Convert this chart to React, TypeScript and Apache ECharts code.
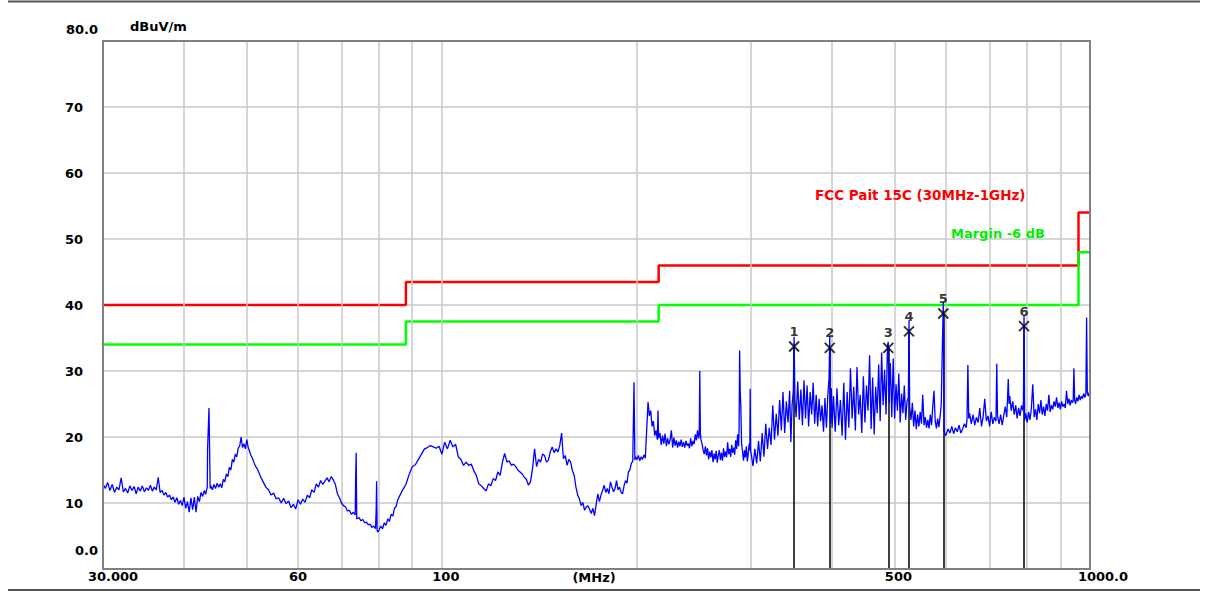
import React, { useEffect, useRef } from "react";
import * as echarts from "echarts";

// ---------- data ----------
const gridFreqs = [40, 50, 60, 70, 80, 90, 100, 200, 300, 400, 500, 600, 700, 800, 900];
const xLabelFreqs = [30, 60, 100, 500, 1000];
const xLabelTexts = ["30.000", "60", "100", "500", "1000.0"];
const xLabelShift = [20, 0, 8, 7, 26];

const limitFreq = [30, 88, 88, 216, 216, 960, 960, 1000];
const limitLevel = [40, 40, 43.5, 43.5, 46, 46, 54, 54];
const marginLevel = [34, 34, 37.5, 37.5, 40, 40, 48, 48];

const markerNames = ["1", "2", "3", "4", "5", "6"];
const markerFreq = [349.5, 396.7, 488.4, 525.7, 593.8, 791];
const markerLevel = [33.7, 33.5, 33.5, 36.0, 38.7, 36.8];

// 30 - 100 MHz
const traceLow: [number, number][] = [
  [30, 12.9], [30.25, 12.2], [30.5, 13.1], [30.75, 11.9], [31, 12.8], [31.25, 11.6], [31.5, 12.4], [31.75, 12.0],
  [32, 13.8], [32.25, 11.7], [32.5, 12.2], [32.75, 11.5], [33, 12.6], [33.25, 11.9], [33.5, 12.5], [33.75, 11.4],
  [34, 12.4], [34.25, 11.8], [34.5, 12.6], [34.75, 11.7], [35, 12.3], [35.25, 11.9], [35.5, 12.7], [35.75, 11.8],
  [36, 12.4], [36.25, 12.0], [36.5, 13.9], [36.75, 11.6], [37, 11.9], [37.25, 11.2], [37.5, 11.6], [37.75, 10.9],
  [38, 11.2], [38.25, 10.5], [38.5, 10.9], [38.75, 10.1], [39, 10.8], [39.25, 9.8], [39.5, 10.4], [39.75, 9.6],
  [40, 10.9], [40.25, 9.2], [40.5, 10.2], [40.75, 8.6], [41, 10.8], [41.25, 9.0], [41.5, 10.9], [41.75, 8.6],
  [42, 11.0], [42.25, 10.2], [42.5, 11.6], [42.75, 11.0], [43, 11.9], [43.2, 11.3], [43.45, 12.4], [43.5, 18.2],
  [43.72, 24.4], [43.9, 12.2], [44, 12.6], [44.25, 12.0], [44.5, 12.8], [44.75, 12.2], [45, 13.0], [45.25, 12.4],
  [45.5, 12.9], [45.75, 12.3], [46, 13.6], [46.25, 13.2], [46.5, 14.4], [46.75, 14.0], [47, 15.4], [47.25, 15.0],
  [47.5, 16.6], [47.75, 16.2], [48, 17.4], [48.25, 17.0], [48.5, 18.3], [48.75, 18.6], [49, 20.0], [49.25, 18.4],
  [49.5, 19.0], [49.75, 18.2], [50, 19.6], [50.25, 18.4], [50.5, 17.8], [50.75, 17.2], [51, 16.8], [51.5, 15.7],
  [52, 15.0], [52.5, 14.0], [53, 13.2], [53.5, 12.4], [54, 12.0], [54.5, 11.2], [55, 11.5], [55.5, 10.6],
  [56, 10.8], [56.5, 10.0], [57, 10.7], [57.5, 9.9], [58, 10.3], [58.5, 9.3], [59, 9.8], [59.5, 9.1],
  [60, 10.5], [60.5, 9.8], [61, 10.6], [61.5, 10.1], [62, 11.2], [62.5, 10.8], [63, 12.0], [63.5, 11.6],
  [64, 12.9], [64.5, 12.4], [65, 13.4], [65.5, 12.8], [66, 13.3], [66.5, 13.8], [67, 13.2], [67.5, 14.0],
  [68, 13.5], [68.5, 12.8], [69, 11.4], [69.5, 10.8], [70, 10.0], [70.5, 9.6], [71, 9.4], [71.5, 8.8],
  [72, 8.9], [72.5, 8.3], [73, 8.6], [73.5, 8.2], [73.6, 13.3], [73.75, 17.6], [73.9, 7.6], [74, 7.6],
  [74.5, 7.8], [75, 7.3], [75.5, 7.5], [76, 7.0], [76.5, 7.1], [77, 6.7], [77.5, 6.8], [78, 6.3],
  [78.5, 6.5], [79, 6.1], [79.2, 9.4], [79.3, 13.3], [79.45, 5.8], [79.7, 5.6], [80, 5.9], [80.5, 6.5],
  [81, 6.1], [81.5, 7.0], [82, 6.6], [82.5, 7.6], [83, 7.2], [83.5, 8.3], [84, 8.0], [84.5, 9.2],
  [85, 9.5], [85.5, 10.5], [86, 11.0], [87, 12.0], [88, 12.8], [89, 14.3], [90, 15.5], [91, 15.8],
  [92, 16.6], [93, 17.4], [94, 18.2], [95, 18.4], [96, 18.7], [97, 18.5], [98, 18.3], [99, 18.6],
];

// 100 - 300 MHz
const traceMid: [number, number][] = [
  [100, 17.4], [101, 19.2], [102, 18.2], [103, 19.5], [104, 18.5], [105, 18.9], [106, 17.0], [107, 16.6],
  [108, 15.7], [109, 16.2], [110, 15.7], [111, 15.9], [112, 14.9], [113, 14.2], [114, 12.9], [115, 12.6],
  [116, 12.2], [117, 11.8], [118, 12.9], [119, 12.6], [120, 13.7], [121, 13.4], [122, 14.7], [123, 14.2],
  [124, 16.2], [125, 17.5], [126, 16.2], [127, 16.4], [128, 15.7], [129, 15.9], [130, 15.5], [131, 15.0],
  [132, 14.7], [133, 14.4], [134, 13.9], [135, 13.6], [136, 12.7], [137, 13.2], [138, 15.2], [139, 18.2],
  [140, 15.5], [141, 16.6], [142, 16.2], [143, 17.4], [144, 17.2], [145, 16.2], [146, 16.5], [147, 17.8],
  [148, 18.5], [149, 17.6], [150, 18.2], [151, 17.7], [152, 18.7], [153, 20.6], [154, 16.7], [155, 17.2],
  [156, 15.7], [157, 16.6], [158, 16.2], [159, 14.9], [160, 14.2], [161, 12.4], [162, 11.2], [163, 10.6],
  [164, 9.6], [165, 10.1], [166, 8.9], [167, 9.4], [168, 9.6], [169, 9.0], [170, 8.4], [171, 9.2],
  [172, 8.1], [173, 9.8], [174, 11.4], [175, 10.2], [176, 11.2], [177, 11.9], [178, 12.7], [179, 11.6],
  [180, 12.2], [181, 11.4], [182, 13.2], [183, 12.4], [184, 11.7], [185, 12.2], [186, 13.4], [187, 12.0],
  [188, 12.4], [189, 11.6], [190, 11.4], [191, 12.6], [192, 13.4], [193, 13.0], [194, 14.7], [195, 15.0],
  [196, 16.0], [197, 16.3], [197.5, 22.8], [197.9, 28.3], [198.5, 16.5], [199, 17.0], [200, 16.6], [201, 17.2],
  [202, 16.4], [203, 17.0], [204, 16.6], [205, 17.3], [206, 16.8], [207, 21.0], [208, 25.3], [209, 23.2],
  [210, 24.0], [211, 21.6], [212, 22.4], [213, 20.2], [214, 21.0], [215, 19.6], [215.5, 24.0], [216, 19.8],
  [217, 20.6], [218, 18.8], [219, 20.2], [220, 19.0], [221, 20.5], [222, 18.6], [223, 19.8], [224, 18.9],
  [225, 19.6], [226, 21.0], [227, 18.4], [228, 19.9], [229, 18.7], [230, 19.5], [231, 18.4], [232, 19.3],
  [233, 18.6], [234, 19.6], [235, 18.5], [236, 19.2], [237, 18.4], [238, 19.4], [239, 18.7], [240, 19.0],
  [241, 18.3], [242, 19.8], [243, 18.6], [244, 19.4], [245, 18.9], [246, 20.4], [247, 19.5], [248, 21.0],
  [249, 19.8], [249.5, 20.4], [250, 30.0], [250.5, 20.6], [251, 19.6], [252, 19.0], [253, 18.0], [254, 17.4],
  [255, 18.6], [256, 17.2], [257, 18.3], [258, 16.6], [259, 17.8], [260, 16.9], [261, 18.0], [262, 16.2],
  [263, 17.5], [264, 16.6], [265, 17.9], [266, 16.1], [267, 17.2], [268, 18.0], [269, 16.5], [270, 17.6],
  [271, 16.4], [272, 18.3], [273, 17.0], [274, 17.8], [275, 16.9], [276, 19.2], [277, 17.4], [278, 18.2],
  [279, 17.0], [280, 18.8], [281, 17.6], [282, 18.4], [283, 17.3], [284, 19.5], [285, 18.2], [286, 20.4],
  [287, 18.6], [287.5, 21.5], [288, 33.1], [288.6, 27.0], [289.2, 24.8], [290, 19.0], [291, 17.8], [292, 16.4],
  [293, 18.0], [294, 16.9], [295, 18.6], [296, 16.3], [297, 17.5], [298, 19.0], [298.6, 18.0], [299, 27.3],
  [299.5, 17.8],
];

// 300 - 1000 MHz
const traceHigh: [number, number][] = [
  [300, 17.5], [302, 15.6], [304, 18.2], [306, 16.0], [308, 19.4], [310, 16.3], [312, 20.6], [314, 17.0],
  [316, 22.0], [318, 18.2], [320, 21.4], [322, 18.8], [324, 24.8], [326, 19.6], [328, 23.5], [330, 20.2],
  [332, 25.6], [334, 21.0], [336, 26.8], [338, 20.6], [340, 25.4], [342, 22.2], [344, 27.0], [345.5, 19.2],
  [347, 24.8], [348.5, 27.0], [349.5, 35.2], [350.5, 25.6], [352, 23.0], [354, 28.4], [356, 22.6], [358, 27.2],
  [360, 21.8], [362, 28.6], [364, 22.8], [366, 27.8], [368, 21.6], [370, 26.8], [372, 23.4], [374, 28.2],
  [376, 22.0], [378, 26.4], [380, 21.6], [382, 25.8], [384, 22.4], [386, 24.8], [388, 20.8], [390, 25.9],
  [392, 21.4], [394, 26.4], [395.7, 28.8], [396.7, 35.2], [397.7, 22.0], [399, 27.4], [400, 21.4], [402, 26.2],
  [404.5, 20.8], [407, 27.4], [409.5, 21.8], [412, 25.6], [414.5, 20.2], [417, 28.2], [419.5, 19.6], [422, 26.8],
  [424.5, 21.4], [427, 30.4], [429.5, 22.8], [432, 27.6], [434.5, 21.0], [437, 30.6], [439.5, 23.4], [442, 26.4],
  [444.5, 20.6], [447, 29.2], [449.5, 22.2], [452, 27.8], [454.5, 24.0], [457, 32.4], [459.5, 21.2], [462, 29.0],
  [464.5, 20.4], [467, 27.6], [469.5, 23.6], [472, 31.0], [474.5, 22.4], [477, 32.8], [479.5, 24.8], [482, 30.2],
  [484.5, 23.4], [487, 33.9], [488.4, 34.4], [489.5, 25.2], [492, 31.2], [494.5, 23.0], [497, 31.9], [499.5, 22.8],
  [502, 28.0], [504.5, 24.0], [507, 29.6], [509.5, 22.2], [512, 26.6], [514.5, 23.6], [517, 27.8], [519.5, 22.6],
  [522, 25.4], [524.5, 26.0], [525.7, 37.7], [527, 24.5], [529.5, 22.6], [532, 25.2], [534.5, 21.6], [537, 24.0],
  [539.5, 21.2], [542, 23.4], [544.5, 21.6], [547, 23.8], [549.5, 22.0], [552, 26.4], [554.5, 21.8], [557, 23.0],
  [559.5, 21.4], [562, 22.6], [564.5, 21.3], [567, 23.4], [569.5, 21.8], [572, 24.6], [574.5, 27.0], [577, 22.4],
  [579.5, 21.3], [582, 22.8], [584.5, 21.5], [587, 23.0], [589.5, 25.0], [591, 30.6], [593.8, 40.5], [595.5, 21.0],
  [598, 20.2], [600, 20.4], [604, 21.2], [608, 20.6], [612, 21.6], [616, 20.5], [620, 21.4], [624, 20.8],
  [628, 21.8], [632, 20.6], [636, 21.2], [640, 22.0], [644, 21.4], [646, 22.6], [648, 30.9], [650, 22.8],
  [652, 23.6], [656, 22.0], [660, 23.4], [664, 21.8], [668, 23.0], [672, 22.2], [676, 24.4], [680, 21.6],
  [684, 23.0], [688, 25.8], [692, 22.4], [696, 23.2], [700, 21.6], [704, 23.8], [708, 22.0], [712, 23.0],
  [716, 22.4], [718, 31.1], [720, 23.2], [724, 22.0], [728, 23.4], [732, 21.8], [736, 23.2], [740, 24.6],
  [744, 23.0], [746, 25.8], [748, 28.8], [750, 25.0], [752, 26.2], [756, 24.0], [760, 25.4], [764, 23.4],
  [768, 24.8], [772, 22.8], [776, 24.4], [780, 23.2], [784, 24.8], [788, 24.0], [789.5, 25.5], [791, 38.4],
  [793, 22.5], [796, 23.6], [800, 22.2], [804, 23.8], [808, 22.6], [812, 24.4], [816, 28.0], [820, 23.0],
  [824, 24.2], [828, 22.6], [832, 25.0], [836, 23.6], [840, 25.6], [844, 23.4], [848, 24.6], [852, 23.2],
  [856, 25.0], [860, 24.0], [864, 26.4], [868, 23.8], [872, 24.8], [876, 24.2], [880, 25.4], [884, 24.6],
  [888, 26.0], [892, 24.4], [896, 25.2], [900, 24.2], [904, 25.4], [908, 24.6], [912, 25.0], [916, 24.4],
  [920, 27.0], [924, 25.0], [928, 25.8], [932, 24.8], [936, 25.6], [940, 25.2], [942, 25.5], [944.5, 30.4],
  [947, 25.6], [950, 25.0], [954, 26.0], [958, 25.4], [962, 26.4], [966, 25.6], [970, 26.2], [974, 25.8],
  [978, 26.6], [982, 26.0], [985.5, 26.4], [988, 38.1], [990.5, 26.8], [994, 26.2], [998, 26.8], [1000, 26.5],
];

const FONT = "DejaVu Sans";

export default function App() {
  const ref = useRef<HTMLDivElement>(null);

  useEffect(() => {
    if (!ref.current) return;
    const chart = echarts.init(ref.current, undefined, { renderer: "svg" });

    const trace = [...traceLow, ...traceMid, ...traceHigh];

    const gridLines: any[] = gridFreqs.map((f) => ({ xAxis: f }));
    const labelLines: any[] = xLabelFreqs.map((f, i) => ({
      xAxis: f,
      lineStyle: { color: "rgba(0,0,0,0)", width: 1 },
      label: {
        show: true,
        position: "start",
        distance: 1,
        formatter: xLabelTexts[i],
        color: "#000",
        fontFamily: FONT,
        fontWeight: "bold",
        fontSize: 13,
        padding: [0, 0, 0, xLabelShift[i]],
      },
    }));

    const txt = (text: string, x: number, y: number, align: string, fill = "#000", size = 13) => ({
      type: "text",
      x,
      y,
      z: 20,
      style: {
        text,
        fill,
        font: `bold ${size}px "${FONT}"`,
        align,
        verticalAlign: "middle",
        textAlign: align,
        textVerticalAlign: "middle",
      },
    });

    const option: any = {
      animation: false,
      backgroundColor: "#fff",
      textStyle: { fontFamily: FONT },
      grid: {
        left: 103,
        right: 117,
        top: 41,
        bottom: 23,
        show: true,
        borderColor: "#808080",
        borderWidth: 2,
        z: 10,
      },
      xAxis: {
        type: "log",
        logBase: 10,
        min: 30,
        max: 1000,
        axisLine: { show: false },
        axisTick: { show: false },
        axisLabel: { show: false },
        splitLine: { show: false },
      },
      yAxis: {
        type: "value",
        min: 0,
        max: 80,
        interval: 10,
        axisLine: { show: false },
        axisTick: { show: false },
        axisLabel: {
          align: "left",
          margin: 38,
          color: "#000",
          fontFamily: FONT,
          fontWeight: "bold",
          fontSize: 13,
          formatter: (v: number) => (v >= 10 && v <= 70 ? String(v) : ""),
        },
        splitLine: { show: true, lineStyle: { color: "#c8c8c8", width: 1.5 } },
      },
      series: [
        {
          name: "grid",
          type: "line",
          data: [[30, 0]],
          showSymbol: false,
          lineStyle: { opacity: 0 },
          silent: true,
          z: 1,
          markLine: {
            silent: true,
            symbol: ["none", "none"],
            lineStyle: { color: "#c8c8c8", width: 1.5, type: "solid" },
            label: { show: false },
            data: [...gridLines, ...labelLines],
          },
        },
        {
          name: "markerLines",
          type: "line",
          data: [[30, 0]],
          showSymbol: false,
          lineStyle: { opacity: 0 },
          silent: true,
          z: 2,
          markLine: {
            silent: true,
            symbol: ["none", "none"],
            lineStyle: { color: "#000", width: 1.5, type: "solid" },
            label: { show: false },
            data: markerFreq.map((f, i) => [{ coord: [f, 0] }, { coord: [f, markerLevel[i]] }]),
          },
        },
        {
          name: "FCC Pait 15C (30MHz-1GHz)",
          type: "line",
          data: limitFreq.map((f, i) => [f, limitLevel[i]]),
          showSymbol: false,
          lineStyle: { color: "#ff0000", width: 2.5 },
          z: 4,
        },
        {
          name: "Margin -6 dB",
          type: "line",
          data: limitFreq.map((f, i) => [f, marginLevel[i]]),
          showSymbol: false,
          lineStyle: { color: "#00ff00", width: 2.5 },
          z: 4,
        },
        {
          name: "Trace",
          type: "line",
          data: trace,
          showSymbol: false,
          lineStyle: { color: "#0000ff", width: 1.3 },
          z: 5,
        },
        {
          name: "Markers",
          type: "scatter",
          data: markerFreq.map((f, i) => [f, markerLevel[i]]),
          symbol: "path://M0 0L10 10M10 0L0 10",
          symbolSize: 10,
          itemStyle: { color: "none", borderColor: "#000", borderWidth: 2 },
          label: {
            show: true,
            position: "top",
            distance: 1,
            formatter: (p: any) => markerNames[p.dataIndex],
            color: "#000",
            fontFamily: FONT,
            fontWeight: "bold",
            fontSize: 13,
          },
          z: 6,
        },
      ],
      graphic: [
        { type: "line", shape: { x1: 8, y1: 1.5, x2: 1200, y2: 1.5 }, style: { stroke: "#555", lineWidth: 2 } },
        { type: "line", shape: { x1: 8, y1: 590, x2: 1200, y2: 590 }, style: { stroke: "#555", lineWidth: 2 } },
        txt("80.0", 98, 29, "right"),
        txt("0.0", 98, 550, "right"),
        txt("dBuV/m", 130, 26, "left"),
        txt("(MHz)", 594, 577, "center"),
        txt("FCC Pait 15C (30MHz-1GHz)", 815, 195, "left", "#ff0000", 13.5),
        txt("Margin -6 dB", 951, 233, "left", "#00ee00", 13),
      ],
    };

    chart.setOption(option);
    return () => chart.dispose();
  }, []);

  return (
    <div
      ref={ref}
      style={{ position: "fixed", left: 0, top: 0, width: 1207, height: 592, background: "#fff" }}
    />
  );
}
